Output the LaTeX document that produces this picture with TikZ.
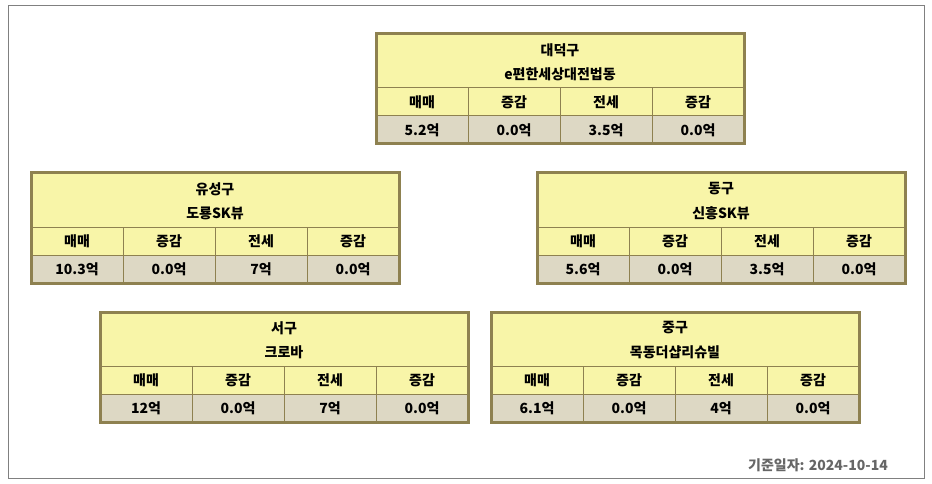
\documentclass[tikz,border=0pt]{standalone}
\usepackage{fontspec}
\setmainfont{Noto Sans CJK KR}
\definecolor{ylw}{HTML}{F8F5A8}
\definecolor{bge}{HTML}{DDD8C4}
\definecolor{olv}{HTML}{8E8150}
\tikzset{cell/.style={font=\bfseries\fontsize{14}{16}\selectfont,inner sep=0pt,anchor=center}}
\newcommand\tbox[9]{% name x y l1 l2 v1 v2 v3 v4
  \fill[ylw] (#2,#3) rectangle ++(368,82);
  \fill[bge] (#2,#3+82) rectangle ++(368,28);
  \foreach \i in {1,2,3}{\draw[olv,line width=1pt] (#2+92*\i,#3+54) -- (#2+92*\i,#3+110);}
  \draw[olv,line width=1pt] (#2,#3+54) -- ++(368,0);
  \draw[olv,line width=1pt] (#2,#3+82) -- ++(368,0);
  \draw[olv,line width=3pt] (#2,#3) rectangle ++(368,110);
  \node[cell] (#1t1) at (#2+184,#3+16) {#4};
  \node[cell] (#1t2) at (#2+184,#3+40) {#5};
  \node[cell] (#1h1) at (#2+46,#3+68) {매매};
  \node[cell] (#1h2) at (#2+138,#3+68) {증감};
  \node[cell] (#1h3) at (#2+230,#3+68) {전세};
  \node[cell] (#1h4) at (#2+322,#3+68) {증감};
  \node[cell] (#1v1) at (#2+46,#3+96) {#6};
  \node[cell] (#1v2) at (#2+138,#3+96) {#7};
  \node[cell] (#1v3) at (#2+230,#3+96) {#8};
  \node[cell] (#1v4) at (#2+322,#3+96) {#9};
}
\begin{document}
\begin{tikzpicture}[x=1pt,y=-1pt]
\useasboundingbox (0,0) rectangle (932,484);
\draw[gray,line width=1pt] (8,6) rectangle (924,478);
\tbox{a}{376}{34}{대덕구}{e편한세상대전법동}{5.2억}{0.0억}{3.5억}{0.0억}
\tbox{b}{31}{173}{유성구}{도룡SK뷰}{10.3억}{0.0억}{7억}{0.0억}
\tbox{c}{537}{173}{동구}{신흥SK뷰}{5.6억}{0.0억}{3.5억}{0.0억}
\tbox{d}{100}{312}{서구}{크로바}{12억}{0.0억}{7억}{0.0억}
\tbox{e}{491}{312}{중구}{목동더샵리슈빌}{6.1억}{0.0억}{4억}{0.0억}
\node[font=\bfseries\fontsize{14}{16}\selectfont,text=gray!80!black,anchor=east,inner sep=0pt] (date) at (888,465) {기준일자: 2024-10-14};
\end{tikzpicture}
\end{document}
